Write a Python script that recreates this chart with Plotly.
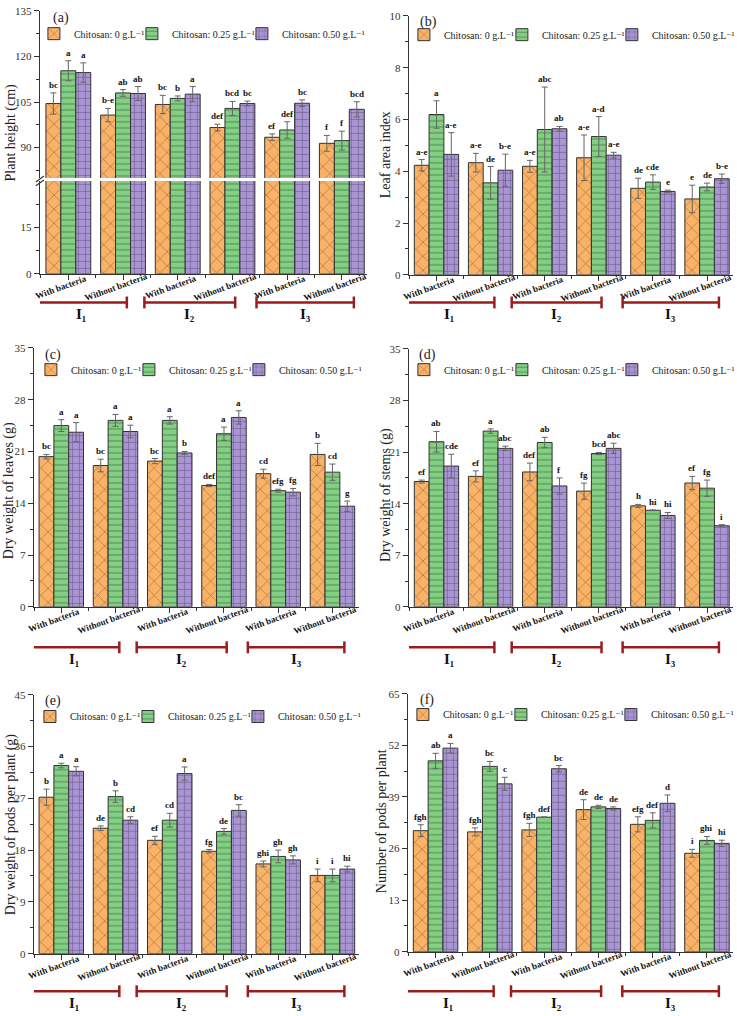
import plotly.graph_objects as go

W, H = 737, 1016

# ---------------- data ----------------
categories = ["With bacteria", "Without bacteria", "With bacteria",
              "Without bacteria", "With bacteria", "Without bacteria"]
irrigation_labels = ["I₁", "I₂", "I₃"]
series_names = ["Chitosan: 0 g.L⁻¹",
                "Chitosan: 0.25 g.L⁻¹",
                "Chitosan: 0.50 g.L⁻¹"]

# (a) Plant height (cm)
height_c0 = [104.5, 100.7, 104.2, 96.6, 93.4, 91.4]
height_c25 = [115.3, 108.0, 106.2, 102.9, 95.8, 92.3]
height_c50 = [114.7, 107.8, 107.6, 104.5, 104.6, 102.6]
height_err_c0 = [3.5, 2.2, 3.0, 1.1, 1.1, 2.6]
height_err_c25 = [3.3, 1.1, 0.8, 2.3, 2.7, 3.1]
height_err_c50 = [3.2, 2.3, 2.5, 0.8, 1.1, 2.5]
height_let_c0 = ["bc", "b-e", "bc", "def", "ef", "f"]
height_let_c25 = ["a", "ab", "b", "bcd", "def", "f"]
height_let_c50 = ["a", "ab", "a", "bc", "bc", "bcd"]

# (b) Leaf area index
lai_c0 = [4.23, 4.33, 4.19, 4.52, 3.34, 2.93]
lai_c25 = [6.19, 3.55, 5.61, 5.34, 3.58, 3.39]
lai_c50 = [4.65, 4.04, 5.64, 4.62, 3.22, 3.71]
lai_err_c0 = [0.22, 0.36, 0.23, 0.88, 0.39, 0.53]
lai_err_c25 = [0.53, 0.63, 1.64, 0.77, 0.28, 0.15]
lai_err_c50 = [0.84, 0.62, 0.09, 0.11, 0.05, 0.18]
lai_let_c0 = ["a-e", "a-e", "a-e", "a-e", "de", "e"]
lai_let_c25 = ["a", "de", "abc", "a-d", "cde", "de"]
lai_let_c50 = ["a-e", "b-e", "ab", "a-e", "e", "b-e"]

# (c) Dry weight of leaves (g)
leaves_c0 = [20.3, 19.1, 19.7, 16.4, 18.0, 20.6]
leaves_c25 = [24.5, 25.2, 25.2, 23.4, 15.7, 18.2]
leaves_c50 = [23.6, 23.7, 20.8, 25.6, 15.5, 13.6]
leaves_err_c0 = [0.3, 0.85, 0.35, 0.15, 0.6, 1.5]
leaves_err_c25 = [0.8, 0.8, 0.5, 0.9, 0.2, 1.1]
leaves_err_c50 = [1.3, 0.85, 0.2, 0.9, 0.5, 0.7]
leaves_let_c0 = ["bc", "bc", "bc", "def", "cd", "b"]
leaves_let_c25 = ["a", "a", "a", "a", "efg", "cd"]
leaves_let_c50 = ["a", "a", "b", "a", "fg", "g"]

# (d) Dry weight of stems (g)
stems_c0 = [17.0, 17.7, 18.3, 15.7, 13.7, 16.8]
stems_c25 = [22.4, 23.85, 22.3, 20.8, 13.1, 16.1]
stems_c50 = [19.1, 21.5, 16.4, 21.5, 12.4, 11.0]
stems_err_c0 = [0.2, 0.75, 1.2, 1.1, 0.2, 0.9]
stems_err_c25 = [1.4, 0.3, 0.7, 0.15, 0.05, 1.1]
stems_err_c50 = [1.6, 0.3, 1.1, 0.7, 0.4, 0.15]
stems_let_c0 = ["ef", "ef", "def", "fg", "h", "ef"]
stems_let_c25 = ["ab", "a", "ab", "bcd", "hi", "fg"]
stems_let_c50 = ["cde", "abc", "f", "abc", "hi", "i"]

# (e) Dry weight of pods per plant (g)
podsw_c0 = [27.2, 21.8, 19.7, 17.8, 15.6, 13.6]
podsw_c25 = [32.7, 27.3, 23.2, 21.25, 16.9, 13.6]
podsw_c50 = [31.7, 23.2, 31.3, 24.9, 16.3, 14.7]
podsw_err_c0 = [1.4, 0.4, 0.7, 0.3, 0.5, 1.1]
podsw_err_c25 = [0.4, 1.0, 1.2, 0.5, 1.1, 1.1]
podsw_err_c50 = [0.8, 0.6, 1.15, 1.0, 0.7, 0.5]
podsw_let_c0 = ["b", "de", "ef", "fg", "ghi", "i"]
podsw_let_c25 = ["a", "b", "cd", "de", "gh", "i"]
podsw_let_c50 = ["a", "cd", "a", "bc", "gh", "hi"]

# (f) Number of pods per plant
podsn_c0 = [30.5, 30.2, 30.7, 35.8, 32.1, 24.8]
podsn_c25 = [48.1, 46.7, 33.9, 36.5, 33.1, 28.05]
podsn_c50 = [51.3, 42.3, 46.1, 36.1, 37.4, 27.3]
podsn_err_c0 = [1.5, 1.0, 1.65, 2.5, 1.9, 1.0]
podsn_err_c25 = [1.9, 1.25, 0.1, 0.4, 1.9, 1.0]
podsn_err_c50 = [1.2, 1.65, 0.8, 0.4, 2.1, 0.8]
podsn_let_c0 = ["fgh", "fgh", "fgh", "de", "efg", "i"]
podsn_let_c25 = ["ab", "bc", "def", "de", "def", "ghi"]
podsn_let_c50 = ["a", "c", "bc", "de", "d", "hi"]

y_titles = ["Plant height (cm)", "Leaf area index", "Dry weight of leaves (g)",
            "Dry weight of stems (g)", "Dry weight of pods per plant (g)",
            "Number of pods per plant"]
panel_tags = ["(a)", "(b)", "(c)", "(d)", "(e)", "(f)"]

# ---------------- styling ----------------
SERIF = "Liberation Serif, Times New Roman, DejaVu Serif, serif"
AX = "#333333"
fills = ["#FAB267", "#83CF83", "#AA95D4"]
patterns = [
    dict(shape="x", size=10, solidity=0.12, fgcolor="#3b2614"),
    dict(shape="-", size=6, solidity=0.16, fgcolor="#1e3a1e"),
    dict(shape="+", size=7, solidity=0.16, fgcolor="#221a33"),
]
legend_widths = [53, 65, 80]
BRACKET = "#9B1C1C"

def px_x(p):
    return p / W

def px_y(p):
    return 1 - p / H

panels = [
    dict(vals=[height_c0, height_c25, height_c50],
         errs=[height_err_c0, height_err_c25, height_err_c50],
         lets=[height_let_c0, height_let_c25, height_let_c50]),
    dict(vals=[lai_c0, lai_c25, lai_c50],
         errs=[lai_err_c0, lai_err_c25, lai_err_c50],
         lets=[lai_let_c0, lai_let_c25, lai_let_c50]),
    dict(vals=[leaves_c0, leaves_c25, leaves_c50],
         errs=[leaves_err_c0, leaves_err_c25, leaves_err_c50],
         lets=[leaves_let_c0, leaves_let_c25, leaves_let_c50]),
    dict(vals=[stems_c0, stems_c25, stems_c50],
         errs=[stems_err_c0, stems_err_c25, stems_err_c50],
         lets=[stems_let_c0, stems_let_c25, stems_let_c50]),
    dict(vals=[podsw_c0, podsw_c25, podsw_c50],
         errs=[podsw_err_c0, podsw_err_c25, podsw_err_c50],
         lets=[podsw_let_c0, podsw_let_c25, podsw_let_c50]),
    dict(vals=[podsn_c0, podsn_c25, podsn_c50],
         errs=[podsn_err_c0, podsn_err_c25, podsn_err_c50],
         lets=[podsn_let_c0, podsn_let_c25, podsn_let_c50]),
]

# layout geometry (pixels)
geo = [
    dict(x0=40, x1=368, ytop=5, ybot=271, xr=[-0.52, 5.46], yr=[80, 135], dt=15, minor=7.5,
         xa="x", ya="y2", leg=(34, 28), tag=(61, 12), title=(12, 128), br=300, il=312),
    dict(x0=410, x1=735, ytop=10, ybot=272, xr=[-0.51, 5.48], yr=[0, 10], dt=2, minor=1,
         xa="x2", ya="y3", leg=(405, 29), tag=(430, 16), title=(386, 150), br=300, il=312),
    dict(x0=34, x1=360, ytop=346, ybot=608, xr=[-0.505, 5.49], yr=[0, 35], dt=7, minor=3.5,
         xa="x3", ya="y4", leg=(31, 368), tag=(53, 353), title=(9, 490), br=649, il=661),
    dict(x0=410, x1=735, ytop=347, ybot=608, xr=[-0.51, 5.48], yr=[0, 35], dt=7, minor=3.5,
         xa="x4", ya="y5", leg=(405, 368), tag=(429, 353), title=(387, 495), br=649, il=661),
    dict(x0=34, x1=360, ytop=697, ybot=959, xr=[-0.505, 5.49], yr=[0, 45], dt=9, minor=4.5,
         xa="x5", ya="y6", leg=(30, 719), tag=(53, 703), title=(11, 828), br=997, il=1009),
    dict(x0=409, x1=735, ytop=696, ybot=957, xr=[-0.51, 5.48], yr=[0, 65], dt=13, minor=6.5,
         xa="x6", ya="y7", leg=(404, 717), tag=(428, 702), title=(382, 825), br=997, il=1009),
]

bracket_start = [-0.6, 1.39, 3.44]
bracket_end = [1.07, 3.05, 5.22]

fig = go.Figure()
annotations = []
shapes = []
layout = {}

offsets = [-0.82 / 3, 0.0, 0.82 / 3]
xs = list(range(len(categories)))

def axis_common():
    return dict(showline=True, linecolor=AX, linewidth=1.2, ticks="outside",
                tickcolor=AX, ticklen=5, tickwidth=1, showgrid=False, zeroline=False,
                tickfont=dict(family=SERIF, size=11, color=AX))

for p, (pan, g) in enumerate(zip(panels, geo)):
    leg_id = "legend" if p == 0 else f"legend{p + 1}"
    for s in range(3):
        fig.add_trace(go.Bar(
            x=xs, y=pan["vals"][s], name=series_names[s],
            xaxis=g["xa"], yaxis=g["ya"], legend=leg_id, legendwidth=legend_widths[s],
            marker=dict(color=fills[s], line=dict(color=AX, width=1), pattern=patterns[s]),
            error_y=dict(type="data", array=pan["errs"][s], color="#666666",
                         thickness=1, width=3),
            showlegend=True,
        ))
        if p == 0:
            # lower segment of broken axis
            fig.add_trace(go.Bar(
                x=xs, y=pan["vals"][s], name=series_names[s],
                xaxis="x", yaxis="y", showlegend=False,
                marker=dict(color=fills[s], line=dict(color=AX, width=1), pattern=patterns[s]),
            ))
        for i in xs:
            annotations.append(dict(
                x=i + offsets[s], y=pan["vals"][s][i] + pan["errs"][s][i],
                xref=g["xa"], yref=g["ya"], text=pan["lets"][s][i], showarrow=False,
                xanchor="center", yanchor="bottom", yshift=1,
                font=dict(family=SERIF, size=9, color="#111111", weight="bold")))

    # axes
    xkey = "xaxis" if g["xa"] == "x" else "xaxis" + g["xa"][1:]
    xdict = axis_common()
    xdict.update(domain=[px_x(g["x0"]), px_x(g["x1"])], range=g["xr"],
                 tickmode="array", tickvals=xs, showticklabels=False,
                 minor=dict(ticks="outside", ticklen=3, tick0=0.5, dtick=1, tickcolor=AX))
    xdict["anchor"] = "y" if p == 0 else g["ya"]
    layout[xkey] = xdict

    ykey = "yaxis" + g["ya"][1:]
    ydict = axis_common()
    if p == 0:
        ydict.update(domain=[px_y(174), px_y(g["ytop"])], range=g["yr"],
                     tickmode="array", tickvals=[90, 105, 120, 135],
                     minor=dict(ticks="outside", ticklen=3, tickvals=[82.5, 97.5, 112.5, 127.5],
                                tickcolor=AX),
                     anchor="x")
    else:
        ydict.update(domain=[px_y(g["ybot"]), px_y(g["ytop"])], range=g["yr"],
                     dtick=g["dt"], tick0=0,
                     minor=dict(ticks="outside", ticklen=3, dtick=g["minor"], tick0=0,
                                tickcolor=AX),
                     anchor=g["xa"])
    layout[ykey] = ydict

    # legend
    layout[leg_id] = dict(orientation="h", x=px_x(g["leg"][0]), y=px_y(g["leg"][1]),
                          xanchor="left", yanchor="middle", bgcolor="rgba(0,0,0,0)",
                          borderwidth=0, itemwidth=30, traceorder="normal",
                          font=dict(family=SERIF, size=10, color="#222222"))

    # panel tag
    annotations.append(dict(x=px_x(g["tag"][0]), y=px_y(g["tag"][1]), xref="paper", yref="paper",
                            text=panel_tags[p], showarrow=False,
                            xanchor="center", yanchor="middle",
                            font=dict(family=SERIF, size=14, color="#222222")))
    # y title
    annotations.append(dict(x=px_x(g["title"][0]), y=px_y(g["title"][1]), xref="paper",
                            yref="paper", text=y_titles[p], showarrow=False, textangle=-90,
                            xanchor="center", yanchor="middle",
                            font=dict(family=SERIF, size=14, color="#222222")))
    # category labels
    for i in xs:
        annotations.append(dict(x=i, y=px_y(g["ybot"]), xref=g["xa"], yref="paper",
                                text=categories[i], showarrow=False, textangle=-20,
                                yanchor="middle", xanchor="center", yshift=-13, xshift=-7,
                                font=dict(family=SERIF, size=9, color="#111111", weight="bold")))
    # irrigation brackets
    for k in range(3):
        yb = px_y(g["br"])
        cap = 6 / H
        for xx0, xx1, yy0, yy1 in [
            (bracket_start[k], bracket_end[k], yb, yb),
            (bracket_start[k], bracket_start[k], yb - cap, yb + cap),
            (bracket_end[k], bracket_end[k], yb - cap, yb + cap),
        ]:
            shapes.append(dict(type="line", xref=g["xa"], yref="paper", x0=xx0, x1=xx1,
                               y0=yy0, y1=yy1, line=dict(color=BRACKET, width=2.5)))
        annotations.append(dict(x=(bracket_start[k] + bracket_end[k]) / 2, y=px_y(g["il"]),
                                xref=g["xa"], yref="paper", text=irrigation_labels[k],
                                showarrow=False, xanchor="center", yanchor="middle",
                                font=dict(family=SERIF, size=15, color="#111111",
                                          weight="bold")))

# lower segment of panel (a)
ylow = axis_common()
ylow.update(domain=[px_y(271), px_y(177)], range=[0, 30], tickmode="array", tickvals=[0, 15],
            minor=dict(ticks="outside", ticklen=3, tickvals=[7.5, 22.5], tickcolor=AX),
            anchor="x")
layout["yaxis"] = ylow

# axis-break marks
for dy in (0, 4):
    shapes.append(dict(type="line", xref="paper", yref="paper",
                       x0=px_x(36), x1=px_x(44), y0=px_y(178 + dy), y1=px_y(172 + dy),
                       line=dict(color=AX, width=1.2)))

fig.update_layout(
    width=W, height=H, margin=dict(l=0, r=0, t=0, b=0),
    paper_bgcolor="white", plot_bgcolor="rgba(0,0,0,0)",
    barmode="group", bargap=0.18, bargroupgap=0,
    annotations=annotations, shapes=shapes,
    font=dict(family=SERIF),
    **layout,
)

fig.write_html("out.html")
